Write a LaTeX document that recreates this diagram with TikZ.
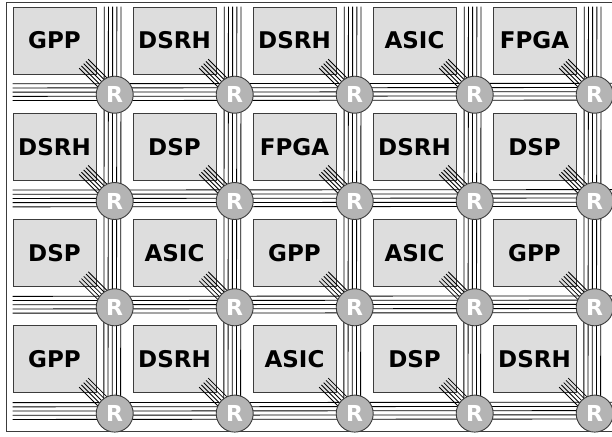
\documentclass[tikz,border=0pt]{standalone}
\usepackage{fontspec}
\setmainfont{DejaVu Sans}
\usetikzlibrary{calc}
\definecolor{boxfill}{RGB}{221,221,221}
\definecolor{rfill}{RGB}{180,180,180}
\definecolor{edge}{RGB}{60,60,60}
\tikzset{
  pe/.style={draw=edge, line width=0.9pt, fill=boxfill, minimum width=83pt, minimum height=67pt,
    inner sep=0pt, font=\fontsize{23}{25}\selectfont\bfseries},
  router/.style={circle, draw=edge, line width=0.9pt, fill=rfill, minimum size=37pt, inner sep=0pt,
    text=white, font=\fontsize{22}{24}\selectfont\bfseries},
  bus/.style={draw=black, line width=0.85pt},
  frame/.style={draw=edge, line width=0.8pt}
}
\begin{document}
\begin{tikzpicture}[x=1pt,y=-1pt]
\useasboundingbox (0,0) rectangle (612,436);
\clip (0,0) rectangle (612,436);
\coordinate (fa) at (6,2);
\coordinate (fb) at (640,431);
\draw[frame] (fa) rectangle (fb);
% router centres
\foreach \i in {0,...,4}{
  \foreach \j in {0,...,3}{
    \coordinate (rc\i\j) at ({114.7+120*\i},{94.7+106.3*\j});
  }
}
% processing elements
\foreach \lab [count=\n from 0] in {GPP,DSRH,DSRH,ASIC,FPGA,DSRH,DSP,FPGA,DSRH,DSP,DSP,ASIC,GPP,ASIC,GPP,GPP,DSRH,ASIC,DSP,DSRH}{
  \pgfmathtruncatemacro{\ci}{mod(\n,5)}
  \pgfmathtruncatemacro{\rj}{div(\n,5)}
  \node[pe] (b\ci\rj) at ($(rc\ci\rj)+(-60.2,-54.2)$) {\lab};
}
% horizontal buses
\foreach \j in {0,...,3}{
  \foreach \o in {-11.4,-7.2,-3,1.2,5.4}{
    \draw[bus] ($(b0\j.south west)+(0,{20.7+\o})$) -- ($(rc4\j)+(30,\o)$);
  }
}
% vertical buses
\foreach \i in {0,...,4}{
  \foreach \o in {-10.9,-6.7,-2.5,1.7,5.9}{
    \draw[bus] ($(b\i0.north east)+({18.7+\o},0)$) -- ($(rc\i3)+(\o,0)$);
  }
}
% diagonal links from each element to its router
\foreach \i in {0,...,4}{
  \foreach \j in {0,...,3}{
    \foreach \k in {-2,...,2}{
      \draw[bus] ($(rc\i\j)+({-31+2.26*\k},{-31-2.26*\k})$) -- ($(rc\i\j)+({2.26*\k},{-2.26*\k})$);
    }
  }
}
% routers
\foreach \i in {0,...,4}{
  \foreach \j in {0,...,3}{
    \node[router] (r\i\j) at (rc\i\j) {R};
  }
}
\end{tikzpicture}
\end{document}
